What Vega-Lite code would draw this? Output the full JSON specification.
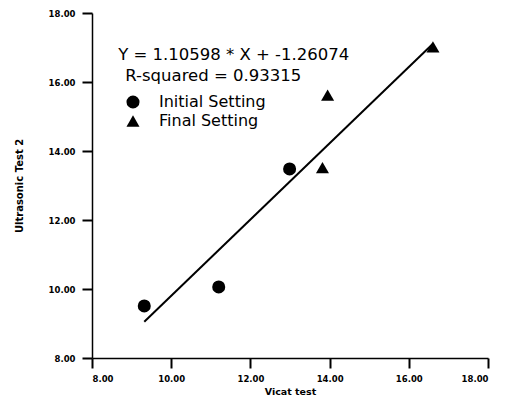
{
  "$schema": "https://vega.github.io/schema/vega-lite/v6.json",
  "autosize": "none",
  "padding": {"left": 92, "top": 13, "right": 19, "bottom": 42},
  "width": 396,
  "height": 345,
  "background": "white",
  "config": {"view": {"stroke": null}, "font": "DejaVu Sans"},
  "datasets": {
    "points": [
      {"vicat": 9.32, "ultra": 9.51, "setting": "Initial Setting"},
      {"vicat": 11.2, "ultra": 10.06, "setting": "Initial Setting"},
      {"vicat": 12.99, "ultra": 13.48, "setting": "Initial Setting"},
      {"vicat": 13.82, "ultra": 13.52, "setting": "Final Setting"},
      {"vicat": 13.95, "ultra": 15.62, "setting": "Final Setting"},
      {"vicat": 16.61, "ultra": 17.02, "setting": "Final Setting"}
    ],
    "fit": [
      {"vicat": 9.32, "ultra": 9.05},
      {"vicat": 16.61, "ultra": 17.11}
    ],
    "notes": [
      {"vicat": 8.66, "ultra": 16.64, "text": "Y = 1.10598 * X + -1.26074"},
      {"vicat": 8.84, "ultra": 16.03, "text": "R-squared = 0.93315"}
    ]
  },
  "layer": [
    {
      "data": {"name": "fit"},
      "mark": {"type": "line", "color": "black", "strokeWidth": 2},
      "encoding": {
        "x": {"field": "vicat", "type": "quantitative"},
        "y": {"field": "ultra", "type": "quantitative"}
      }
    },
    {
      "data": {"name": "points"},
      "mark": {"type": "point", "filled": true, "color": "black", "opacity": 1, "size": 170},
      "encoding": {
        "x": {
          "field": "vicat", "type": "quantitative",
          "scale": {"domain": [8, 18], "nice": false, "zero": false},
          "axis": {
            "title": "Vicat test",
            "values": [8, 10, 12, 14, 16, 18],
            "format": ".2f",
            "ticks": true,
            "tickSize": 10,
            "tickOpacity": 1,
            "tickColor": "#000000", "domainColor": "black", "tickWidth": 2, "domainWidth": 1.5,
            "labelFontSize": 8.5, "labelFontWeight": "bold", "labelColor": "black", "labelPadding": 6,
            "titleFontSize": 9.5, "titleFontWeight": "bold", "titleColor": "black", "titlePadding": 4,
            "grid": false
          }
        },
        "y": {
          "field": "ultra", "type": "quantitative",
          "scale": {"domain": [8, 18], "nice": false, "zero": false},
          "axis": {
            "title": "Ultrasonic Test 2",
            "values": [8, 10, 12, 14, 16, 18],
            "format": ".2f",
            "ticks": true,
            "tickSize": 10,
            "tickOpacity": 1,
            "tickColor": "#000000", "domainColor": "black", "tickWidth": 2, "domainWidth": 1.5,
            "labelFontSize": 8.5, "labelFontWeight": "bold", "labelColor": "black", "labelPadding": 7,
            "titleFontSize": 10, "titleFontWeight": "bold", "titleColor": "black", "titlePadding": 24,
            "grid": false
          }
        },
        "shape": {
          "field": "setting", "type": "nominal",
          "scale": {"domain": ["Initial Setting", "Final Setting"], "range": ["circle", "triangle-up"]},
          "legend": {
            "title": null, "orient": "none", "legendX": 33, "legendY": 81,
            "labelFontSize": 16, "labelColor": "black", "labelOffset": 18,
            "symbolSize": 170, "symbolFillColor": "black", "symbolStrokeColor": "black",
            "symbolOpacity": 1, "rowPadding": 0
          }
        }
      }
    },
    {
      "data": {"name": "notes"},
      "mark": {"type": "text", "align": "left", "baseline": "alphabetic", "fontSize": 16.5, "color": "black"},
      "encoding": {
        "x": {"field": "vicat", "type": "quantitative"},
        "y": {"field": "ultra", "type": "quantitative"},
        "text": {"field": "text"}
      }
    }
  ]
}
